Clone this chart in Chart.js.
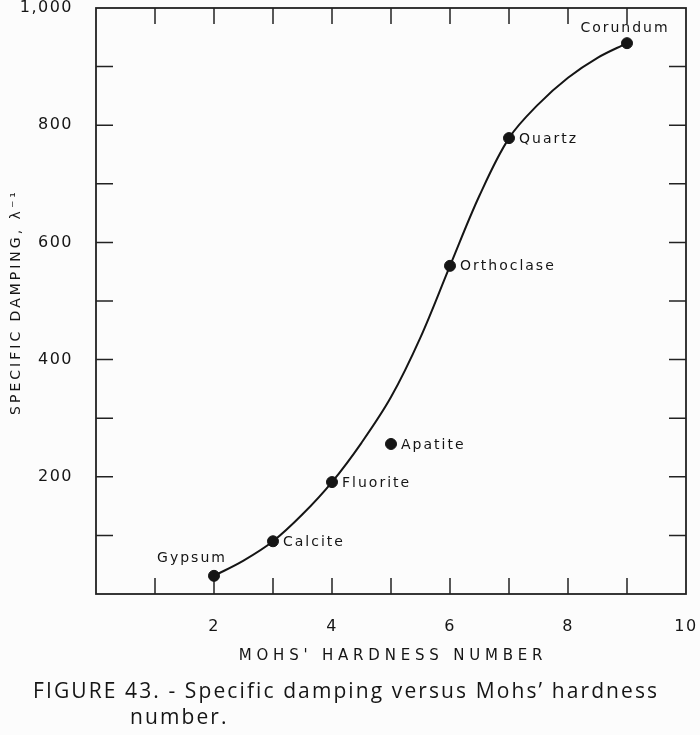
<!DOCTYPE html>
<html>
<head>
<meta charset="utf-8">
<script src="https://cdn.jsdelivr.net/npm/chart.js@4/dist/chart.umd.min.js"></script>
<style>
  html, body { margin: 0; padding: 0; background: #fcfcfc; }
  #wrap { position: relative; width: 700px; height: 735px; }
</style>
</head>
<body>
<div id="wrap"><canvas id="c" width="700" height="735"></canvas></div>
<script>
// ---- data ----
const minerals = ['Gypsum', 'Calcite', 'Fluorite', 'Apatite', 'Orthoclase', 'Quartz', 'Corundum'];
const hardness = [2, 3, 4, 5, 6, 7, 9];
const damping = [31, 90, 191, 256, 560, 778, 940];
// smooth curve drawn in the figure
const curveHardness = [2, 2.5, 3, 3.5, 4, 4.5, 5, 5.5, 6, 6.5, 7, 7.5, 8, 8.5, 9];
const curveDamping = [31, 57, 90, 136, 191, 258, 336, 438, 560, 680, 778, 836, 881, 915, 940];
const xTickLabels = ['2', '4', '6', '8', '10'];
const yTickLabels = ['200', '400', '600', '800', '1,000'];

const xTitle = "MOHS' HARDNESS NUMBER";
const yTitle = 'SPECIFIC DAMPING, \u03BB\u207B\u00B9';
const caption1 = "FIGURE 43. - Specific damping versus Mohs\u2019 hardness";
const caption2 = 'number.';

const INK = '#151515';

// label placement for each mineral (style only)
const placement = { Gypsum: 'above-left', Corundum: 'above' };

const frameAndTicks = {
  id: 'frameAndTicks',
  beforeDatasetsDraw(chart) {
    const { ctx, chartArea: a, scales } = chart;
    ctx.save();
    ctx.strokeStyle = '#222';
    ctx.lineWidth = 1.8;
    ctx.strokeRect(a.left, a.top, a.right - a.left, a.bottom - a.top);
    ctx.lineWidth = 1.5;
    const L = 16;
    scales.x.ticks.forEach(t => {
      if (t.value <= scales.x.min || t.value >= scales.x.max) return;
      const px = scales.x.getPixelForValue(t.value);
      ctx.beginPath();
      ctx.moveTo(px, a.bottom); ctx.lineTo(px, a.bottom - L);
      ctx.moveTo(px, a.top); ctx.lineTo(px, a.top + L);
      ctx.stroke();
    });
    scales.y.ticks.forEach(t => {
      if (t.value <= scales.y.min || t.value >= scales.y.max) return;
      const py = scales.y.getPixelForValue(t.value);
      ctx.beginPath();
      ctx.moveTo(a.left, py); ctx.lineTo(a.left + 17, py);
      ctx.moveTo(a.right, py); ctx.lineTo(a.right - 17, py);
      ctx.stroke();
    });
    ctx.restore();
  },
  afterDraw(chart) {
    const { ctx, chartArea: a } = chart;
    const meta = chart.getDatasetMeta(1);
    ctx.save();
    ctx.fillStyle = INK;
    ctx.font = '14px "DejaVu Sans"';
    ctx.letterSpacing = '2px';
    ctx.textBaseline = 'middle';
    minerals.forEach((name, i) => {
      const el = meta.data[i];
      const mode = placement[name] || 'right';
      if (mode === 'right') {
        ctx.textAlign = 'left';
        ctx.fillText(name, el.x + 10, el.y + 1);
      } else if (mode === 'above') {
        ctx.textAlign = 'center';
        ctx.fillText(name, el.x - 2, el.y - 15);
      } else {
        ctx.textAlign = 'center';
        ctx.fillText(name, el.x - 22, el.y - 17);
      }
    });
    // axis titles
    ctx.font = '15px "DejaVu Sans"';
    ctx.letterSpacing = '4.8px';
    ctx.textAlign = 'center';
    ctx.fillText(xTitle, (a.left + a.right) / 2 + 2, 656);
    ctx.save();
    ctx.translate(16, 302);
    ctx.rotate(-Math.PI / 2);
    ctx.font = '14px "DejaVu Sans"';
    ctx.letterSpacing = '3px';
    ctx.fillText(yTitle, 0, 0);
    ctx.restore();
    // caption
    ctx.font = '500 21px "Open Sans"';
    ctx.letterSpacing = '2.1px';
    ctx.textAlign = 'left';
    ctx.fillText(caption1, 33, 692);
    ctx.fillText(caption2, 130, 718);
    ctx.restore();
  }
};

const letterSpace = {
  id: 'letterSpace',
  beforeDraw(chart) { chart.ctx.letterSpacing = '1.5px'; }
};

new Chart(document.getElementById('c'), {
  data: {
    datasets: [
      {
        type: 'line',
        data: curveHardness.map((x, i) => ({ x, y: curveDamping[i] })),
        borderColor: INK,
        borderWidth: 2,
        pointRadius: 0,
        tension: 0.35,
        fill: false
      },
      {
        type: 'scatter',
        data: hardness.map((x, i) => ({ x, y: damping[i] })),
        backgroundColor: INK,
        borderColor: INK,
        pointRadius: 5.5,
        pointHoverRadius: 5.5
      }
    ]
  },
  options: {
    responsive: false,
    animation: false,
    events: [],
    layout: { padding: { left: 0, right: 14, top: 8, bottom: 101 } },
    plugins: { legend: { display: false }, tooltip: { enabled: false } },
    scales: {
      x: {
        type: 'linear', min: 0, max: 10,
        grid: { display: false },
        border: { display: false },
        ticks: {
          stepSize: 1, padding: 15, color: INK, maxRotation: 0, autoSkip: false,
          font: { family: 'DejaVu Sans', size: 16 },
          callback: v => (v > 0 && v % 2 === 0) ? xTickLabels[v / 2 - 1] : ''
        },
        afterFit(s) { s.height = 40; s.paddingLeft = 0; s.paddingRight = 0; }
      },
      y: {
        type: 'linear', min: 0, max: 1000,
        grid: { display: false },
        border: { display: false },
        ticks: {
          stepSize: 100, padding: 15, color: INK, autoSkip: false,
          font: { family: 'DejaVu Sans', size: 16 },
          callback: v => (v > 0 && v % 200 === 0) ? yTickLabels[v / 200 - 1] : ''
        },
        afterFit(s) { s.width = 96; s.paddingTop = 0; s.paddingBottom = 0; }
      }
    }
  },
  plugins: [letterSpace, frameAndTicks]
});
</script>
</body>
</html>
